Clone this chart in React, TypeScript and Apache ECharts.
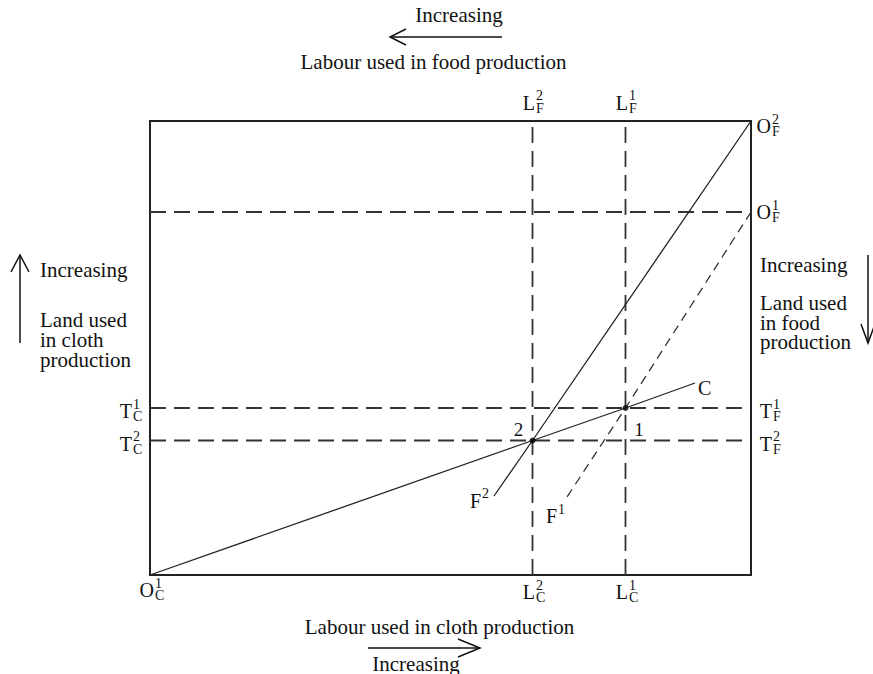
import React, { useEffect, useRef } from "react";
import * as echarts from "echarts";

// ---- data (box units: labour along x, land along y) ----
const boxLabour = 601;
const boxLand = 454;

const labourCloth = [382.5, 475.5]; // L_C^2, L_C^1
const landCloth = [167, 134.5]; // T_C^1, T_C^2
const foodOriginLevels = [454, 363]; // O_F^2, O_F^1

const contractCurve = [
  [0, 0],
  [382.5, 134.5],
  [475.5, 167],
  [545, 192],
];
const rayF2 = [
  [601, 454],
  [382.5, 134.5],
  [344, 79],
];
const rayF1 = [
  [601, 363],
  [475.5, 167],
  [415, 75],
];
const equilibria = [
  [382.5, 134.5],
  [475.5, 167],
];

// [x, y, base, superscript, subscript]
const markLabels: [number, number, string, string, string][] = [
  [0, 0, "O", "1", "C"],
  [382.5, 0, "L", "2", "C"],
  [475.5, 0, "L", "1", "C"],
  [382.5, 454, "L", "2", "F"],
  [475.5, 454, "L", "1", "F"],
  [601, 454, "O", "2", "F"],
  [601, 363, "O", "1", "F"],
  [0, 167, "T", "1", "C"],
  [0, 134.5, "T", "2", "C"],
  [601, 167, "T", "1", "F"],
  [601, 134.5, "T", "2", "F"],
  [344, 79, "F", "2", ""],
  [415, 75, "F", "1", ""],
];

// [x, y, text]
const plainLabels: [number, number, string][] = [
  [382.5, 134.5, "2"],
  [475.5, 167, "1"],
  [545, 192, "C"],
];

const leftCaption = ["Land used", "in cloth", "production"];
const rightCaption = ["Land used", "in food", "production"];

// ---- styling ----
const FONT = "'Liberation Serif', 'Times New Roman', serif";
const INK = "#111";

// pixel offsets of base-letter right edge / middle from the anchor
const markOffsets: [number, number][] = [
  [4, 15],
  [2.5, 17],
  [2.5, 17],
  [2.5, -18.5],
  [2.5, -18.5],
  [20, 5],
  [20, 0],
  [-18, 3],
  [-18, 3],
  [21, 3],
  [21, 3],
  [-13, 4.5],
  [-8, 16],
];
const plainOffsets: [number, number, string, number][] = [
  [-14, -11.5, "center", 19],
  [13.5, 21, "center", 19],
  [3, 4.5, "left", 20],
];

const dashed = { color: "#333", width: 1.8, type: [16, 8] as number[] };
const solid = { color: "#222", width: 1.3, type: "solid" };

function lineSeries(data: number[][], lineStyle: any) {
  return {
    type: "line",
    data,
    showSymbol: false,
    symbol: "none",
    silent: true,
    clip: false,
    lineStyle,
    z: 2,
  };
}

function txt(
  text: string,
  x: number,
  y: number,
  align = "center",
  size = 21,
  lineHeight?: number
) {
  const style: any = {
    text,
    fill: INK,
    font: `${size}px ${FONT}`,
    align,
    verticalAlign: "middle",
    textAlign: align,
    textVerticalAlign: "middle",
  };
  if (lineHeight) style.lineHeight = lineHeight;
  return { type: "text", x, y, silent: true, style };
}

function arrow(line: number[][], head: number[][]) {
  return [
    {
      type: "polyline",
      silent: true,
      shape: { points: line },
      style: { stroke: INK, lineWidth: 1.5, fill: "none" },
    },
    {
      type: "polyline",
      silent: true,
      shape: { points: head },
      style: { stroke: INK, lineWidth: 1.5, fill: "none" },
    },
  ];
}

export default function App() {
  const ref = useRef<HTMLDivElement>(null);

  useEffect(() => {
    const chart = echarts.init(ref.current!, null, { renderer: "svg" });

    const series: any[] = [
      ...labourCloth.map((x) => lineSeries([[x, 0], [x, boxLand]], dashed)),
      ...landCloth.map((y) => lineSeries([[0, y], [boxLabour, y]], dashed)),
      lineSeries([[0, foodOriginLevels[1]], [boxLabour, foodOriginLevels[1]]], dashed),
      lineSeries(contractCurve, solid),
      lineSeries(rayF2, solid),
      lineSeries(rayF1, { color: "#333", width: 1.3, type: [9, 6] }),
      {
        type: "scatter",
        data: equilibria,
        symbol: "circle",
        symbolSize: 6,
        itemStyle: { color: "#000" },
        silent: true,
        z: 5,
      },
      {
        type: "custom",
        data: markLabels.map((l) => [l[0], l[1]]),
        clip: false,
        silent: true,
        z: 6,
        renderItem: (params: any, api: any) => {
          const i = params.dataIndex;
          const p = api.coord([api.value(0), api.value(1)]);
          const [dx, dy] = markOffsets[i];
          const x = p[0] + dx;
          const y = p[1] + dy;
          const lab = markLabels[i];
          const children: any[] = [txt(lab[2], x, y, "right", 20)];
          if (lab[3]) children.push(txt(lab[3], x + 1, y - 7, "left", 14, 11));
          if (lab[4]) children.push(txt(lab[4], x + 1, y + 5.5, "left", 14, 11));
          return { type: "group", children };
        },
      },
      {
        type: "custom",
        data: plainLabels.map((l) => [l[0], l[1]]),
        clip: false,
        silent: true,
        z: 6,
        renderItem: (params: any, api: any) => {
          const i = params.dataIndex;
          const p = api.coord([api.value(0), api.value(1)]);
          const [dx, dy, align, size] = plainOffsets[i];
          return txt(plainLabels[i][2], p[0] + dx, p[1] + dy, align, size);
        },
      },
    ];

    const graphic: any[] = [
      txt("Increasing", 459, 15),
      ...arrow(
        [[390, 37], [502, 37]],
        [[406, 29], [390, 37], [406, 45]]
      ),
      txt("Labour used in food production", 433.5, 62),
      txt("Labour used in cloth production", 439.5, 627),
      ...arrow(
        [[368, 648], [480, 648]],
        [[458, 639], [480, 648], [458, 657]]
      ),
      txt("Increasing", 416, 664),
      ...arrow(
        [[20, 343], [20, 255]],
        [[11, 272], [20, 255], [29, 272]]
      ),
      txt("Increasing", 40, 270, "left"),
      txt(leftCaption.join("\n"), 40, 340, "left", 21, 20),
      ...arrow(
        [[868, 255], [868, 343]],
        [[861, 324], [868, 343], [875, 324]]
      ),
      txt("Increasing", 760, 265, "left"),
      txt(rightCaption.join("\n"), 760, 322.5, "left", 21, 19.5),
    ];

    chart.setOption({
      animation: false,
      backgroundColor: "#fff",
      grid: {
        left: 150,
        top: 121,
        width: 601,
        height: 454,
        show: true,
        borderColor: "#222",
        borderWidth: 2,
        backgroundColor: "transparent",
        containLabel: false,
      },
      xAxis: { type: "value", min: 0, max: boxLabour, show: false },
      yAxis: { type: "value", min: 0, max: boxLand, show: false },
      series,
      graphic,
    });

    return () => chart.dispose();
  }, []);

  return (
    <div
      ref={ref}
      style={{ position: "absolute", left: 0, top: 0, width: 873, height: 674, background: "#fff" }}
    />
  );
}
